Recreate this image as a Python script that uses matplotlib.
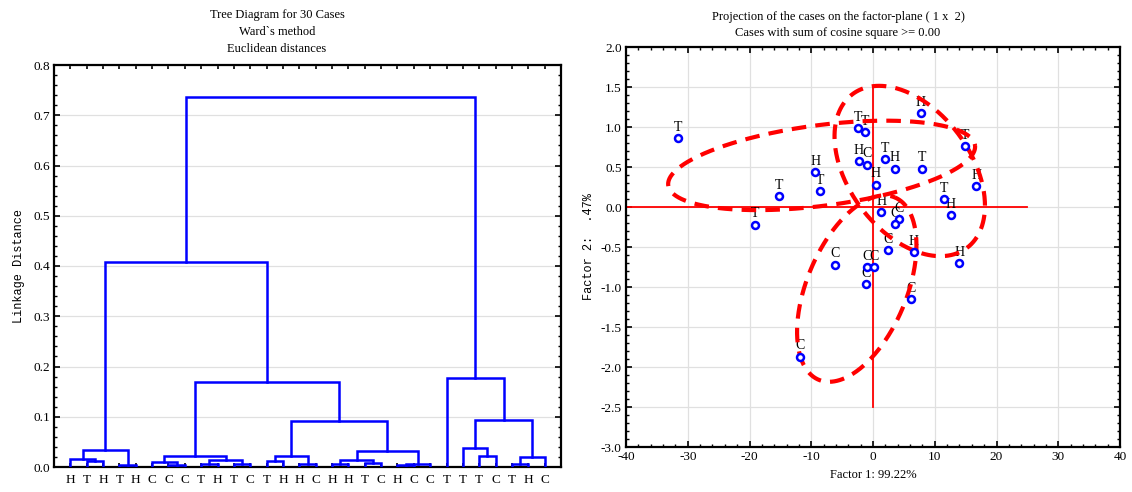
"""
Tree diagram (Ward) + factor-plane projection, two panels side by side
"""

import numpy as np
import matplotlib
matplotlib.use('Agg')
import matplotlib.pyplot as plt
from matplotlib.ticker import MultipleLocator, FixedLocator

# ---- dendrogram data ----
leaf_labels = ["H", "T", "H", "T", "H", "C", "C", "C", "T", "H",
               "T", "C", "T", "H", "H", "C", "H", "H", "T", "C",
               "H", "C", "C", "T", "T", "T", "C", "T", "H", "C"]

# merges: (left node, right node, linkage distance); new node ids start at 30
merge_left = [3, 1, 0, 32, 6, 5, 8, 10, 36, 35, 12, 14, 40, 16, 18, 43, 20, 46,
              45, 42, 39, 33, 25, 24, 27, 54, 53, 23, 51]
merge_right = [4, 2, 31, 30, 7, 34, 9, 11, 37, 38, 13, 15, 41, 17, 19, 44, 21, 22,
               47, 48, 49, 50, 26, 52, 28, 29, 55, 56, 57]
merge_height = [0.004, 0.012, 0.016, 0.034, 0.004, 0.010, 0.005, 0.005, 0.013, 0.022,
                0.012, 0.006, 0.022, 0.005, 0.007, 0.013, 0.003, 0.006,
                0.031, 0.092, 0.169, 0.407, 0.021, 0.038, 0.005, 0.020,
                0.093, 0.178, 0.736]

# ---- factor-plane data ----
f1 = [-31.6, -2.5, -1.3, 7.7, 14.95, -2.3, -0.9, 2.0, 3.5, 7.9,
      -9.35, -8.6, 0.45, -15.2, 16.7, 11.55, 12.6, -19.1, 1.37, 4.17,
      3.5, 2.4, 6.65, 14.0, -6.2, -0.9, 0.1, -1.1, 6.1, -11.9]
f2 = [0.86, 0.99, 0.94, 1.17, 0.76, 0.57, 0.53, 0.60, 0.48, 0.48,
      0.44, 0.20, 0.28, 0.14, 0.26, 0.10, -0.10, -0.22, -0.06, -0.15,
      -0.21, -0.54, -0.56, -0.70, -0.72, -0.75, -0.75, -0.96, -1.15, -1.87]
case_labels = ["T", "T", "T", "H", "T", "H", "C", "T", "H", "T",
               "H", "T", "H", "T", "H", "T", "H", "T", "H", "C",
               "C", "C", "H", "H", "C", "C", "C", "C", "C", "C"]

# hand-drawn ellipses: center, two semi-axis vectors (data units)
ell_center = [(-8.32, 0.52), (5.95, 0.45), (-2.63, -1.02)]
ell_axis_a = [(24.84, 0.25), (9.28, -0.96), (6.16, 1.14)]
ell_axis_b = [(0.84, -0.50), (7.89, 0.46), (7.45, -0.24)]

BLUE = "#0000ff"
RED = "#ff0000"
GRID = "#e0e0e0"
SERIF = "Liberation Serif"

plt.rcParams['font.family'] = SERIF
plt.rcParams['font.size'] = 9
plt.rcParams['axes.unicode_minus'] = False

fig = plt.figure(figsize=(11.32, 4.92), dpi=100)


def style_box(ax):
    for sp in ax.spines.values():
        sp.set_linewidth(1.6)
        sp.set_color("black")
    ax.tick_params(which='major', direction='in', length=4, width=1.2,
                   top=True, right=True, labelsize=9.5, pad=3)
    ax.tick_params(which='minor', direction='in', length=2, width=1,
                   top=True, right=True)


# ---------------- left: dendrogram ----------------
ax1 = fig.add_axes([54 / 1132, 25 / 492, 507 / 1132, 402 / 492])
node_x = {i: float(i) for i in range(len(leaf_labels))}
node_h = {i: 0.0 for i in range(len(leaf_labels))}
for k, (a, b, h) in enumerate(zip(merge_left, merge_right, merge_height)):
    nid = len(leaf_labels) + k
    xa, xb = node_x[a], node_x[b]
    ax1.plot([xa, xa, xb, xb], [node_h[a], h, h, node_h[b]],
             color=BLUE, lw=1.8, solid_joinstyle='miter', zorder=3)
    node_x[nid] = (xa + xb) / 2
    node_h[nid] = h

ax1.set_xlim(-1, len(leaf_labels))
ax1.set_ylim(0, 0.8)
ax1.yaxis.set_major_locator(MultipleLocator(0.1))
ax1.yaxis.set_minor_locator(MultipleLocator(0.02))
ax1.yaxis.set_major_formatter(matplotlib.ticker.FormatStrFormatter('%.1f'))
ax1.xaxis.set_major_locator(FixedLocator(range(len(leaf_labels))))
ax1.set_xticklabels(leaf_labels, fontsize=10)
ax1.grid(axis='y', color=GRID, lw=0.9)
ax1.set_axisbelow(True)
style_box(ax1)
ax1.tick_params(axis='x', which='major', length=3, pad=5)
ax1.set_ylabel("Linkage Distance", family="Liberation Mono", fontsize=8.6, labelpad=6)

fig.text(277 / 1132, 1 - 15 / 492, "Tree Diagram for 30 Cases", ha='center', va='center')
fig.text(277 / 1132, 1 - 32 / 492, "Ward`s method", ha='center', va='center')
fig.text(277 / 1132, 1 - 49 / 492, "Euclidean distances", ha='center', va='center')

# ---------------- right: factor plane ----------------
ax2 = fig.add_axes([626 / 1132, 45 / 492, 494 / 1132, 400 / 492])
ax2.set_xlim(-40, 40)
ax2.set_ylim(-3.0, 2.0)
ax2.xaxis.set_major_locator(MultipleLocator(10))
ax2.xaxis.set_minor_locator(MultipleLocator(2))
ax2.yaxis.set_major_locator(MultipleLocator(0.5))
ax2.yaxis.set_minor_locator(MultipleLocator(0.1))
ax2.yaxis.set_major_formatter(matplotlib.ticker.FormatStrFormatter('%.1f'))
ax2.grid(color=GRID, lw=0.9)
ax2.set_axisbelow(True)
style_box(ax2)

# origin cross
ax2.plot([-40, 25], [0, 0], color=RED, lw=1.3, zorder=2)
ax2.plot([0, 0], [-2.5, 1.5], color=RED, lw=1.3, zorder=2)

# ellipses
t = np.linspace(0, 2 * np.pi, 400)
for c, a, b in zip(ell_center, ell_axis_a, ell_axis_b):
    ex = c[0] + a[0] * np.cos(t) + b[0] * np.sin(t)
    ey = c[1] + a[1] * np.cos(t) + b[1] * np.sin(t)
    ax2.plot(ex, ey, color=RED, lw=3, ls=(0, (3.5, 2.2)), zorder=4)

ax2.plot(f1, f2, ls='none', marker='o', ms=5, mfc='white', mec=BLUE, mew=1.8, zorder=5)
for x, y, lab in zip(f1, f2, case_labels):
    ax2.annotate(lab, (x, y), xytext=(0, 3), textcoords='offset points',
                 ha='center', va='bottom', fontsize=10, zorder=3)

ax2.set_xlabel("Factor 1: 99.22%", labelpad=4)
ax2.set_ylabel("Factor 2:  .47%", family="Liberation Mono", fontsize=8.6, labelpad=4)

fig.text(838 / 1132, 1 - 17 / 492, "Projection of the cases on the factor-plane ( 1 x  2)",
         ha='center', va='center')
fig.text(838 / 1132, 1 - 33 / 492, "Cases with sum of cosine square >= 0.00",
         ha='center', va='center')

fig.savefig("out.png", dpi=100)
